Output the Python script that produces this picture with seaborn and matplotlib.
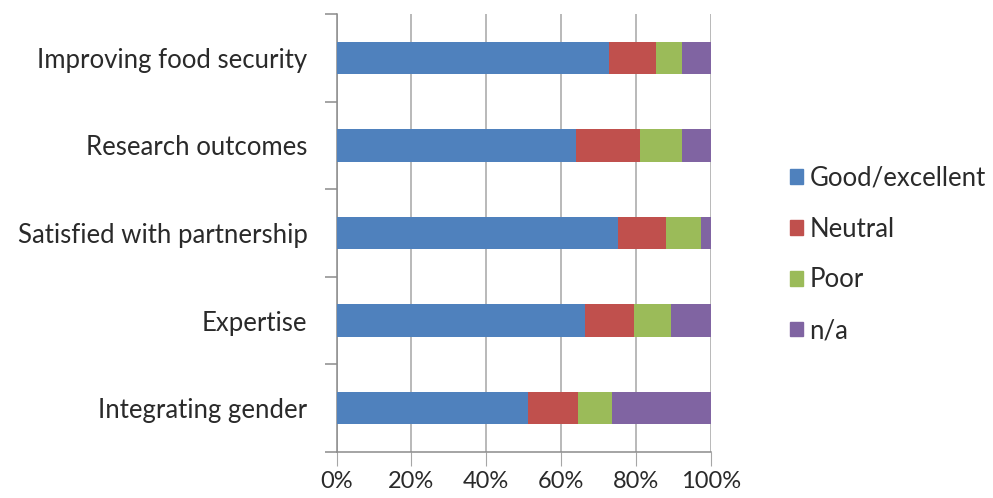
import matplotlib
matplotlib.use("Agg")
import matplotlib.pyplot as plt
import matplotlib.patches as mpatches
from matplotlib.ticker import FixedLocator
import numpy as np
import pandas as pd
import seaborn as sns

# Data (percent of respondents)
categories = [
    "Improving food security",
    "Research outcomes",
    "Satisfied with partnership",
    "Expertise",
    "Integrating gender",
]
good = [72.7, 64.0, 75.2, 66.3, 51.2]
neutral = [12.6, 17.1, 12.9, 13.3, 13.4]
poor = [7.1, 11.3, 9.2, 9.8, 9.1]
na = [7.6, 7.6, 2.7, 10.6, 26.3]

series_names = ["Good/excellent", "Neutral", "Poor", "n/a"]
series_colors = ["#4F81BD", "#C0504D", "#9BBB59", "#8064A2"]

df = pd.DataFrame({"category": categories, "Good/excellent": good,
                   "Neutral": neutral, "Poor": poor, "n/a": na})
cum = df[series_names].cumsum(axis=1)
cum["category"] = df["category"]

sns.set_style("white")
plt.rcParams["font.family"] = ["Lato", "DejaVu Sans"]
FS = 18.5

fig = plt.figure(figsize=(9.93, 4.98), dpi=100)
ax = fig.add_axes([0.339, 0.0924, 0.3767, 0.8795])

# stacked bars: draw cumulative totals from the outermost segment inward
for name, color in reversed(list(zip(series_names, series_colors))):
    sns.barplot(data=cum, x=name, y="category", color=color, width=0.37,
                orient="h", ax=ax, saturation=1, edgecolor="none", zorder=3)

ax.set_xlim(0, 100)
ax.set_ylim(4.5, -0.5)
ax.set_xlabel("")
ax.set_ylabel("")

ax.set_xticks([0, 20, 40, 60, 80, 100])
ax.set_xticklabels(["0%", "20%", "40%", "60%", "80%", "100%"])
ax.grid(axis="x", color="#a6a6a6", linewidth=1.1, zorder=0)
ax.grid(axis="y", visible=False)

for side in ["top", "right"]:
    ax.spines[side].set_visible(False)
for side in ["left", "bottom"]:
    ax.spines[side].set_color("#8c8c8c")
    ax.spines[side].set_linewidth(1.1)

ax.tick_params(axis="x", which="major", direction="out", length=10,
               color="#a6a6a6", labelsize=17, labelcolor="#2a2a2a", pad=4, bottom=True)
ax.tick_params(axis="y", which="major", length=0, labelsize=FS,
               labelcolor="#2a2a2a", pad=21)
ax.yaxis.set_minor_locator(FixedLocator(np.arange(-0.5, 5.0, 1.0)))
ax.tick_params(axis="y", which="minor", direction="out", length=9,
               color="#8c8c8c", width=1.1, left=True)

handles = [mpatches.Patch(color=c, label=n) for n, c in zip(series_names, series_colors)]
fig.legend(handles=handles, loc="center left", bbox_to_anchor=(0.7956, 0.489),
           frameon=False, fontsize=FS, handlelength=0.5, handleheight=0.5,
           handletextpad=0.25, labelspacing=1.0, borderpad=0, borderaxespad=0,
           labelcolor="#2a2a2a")

fig.savefig("out.png", dpi=100)
